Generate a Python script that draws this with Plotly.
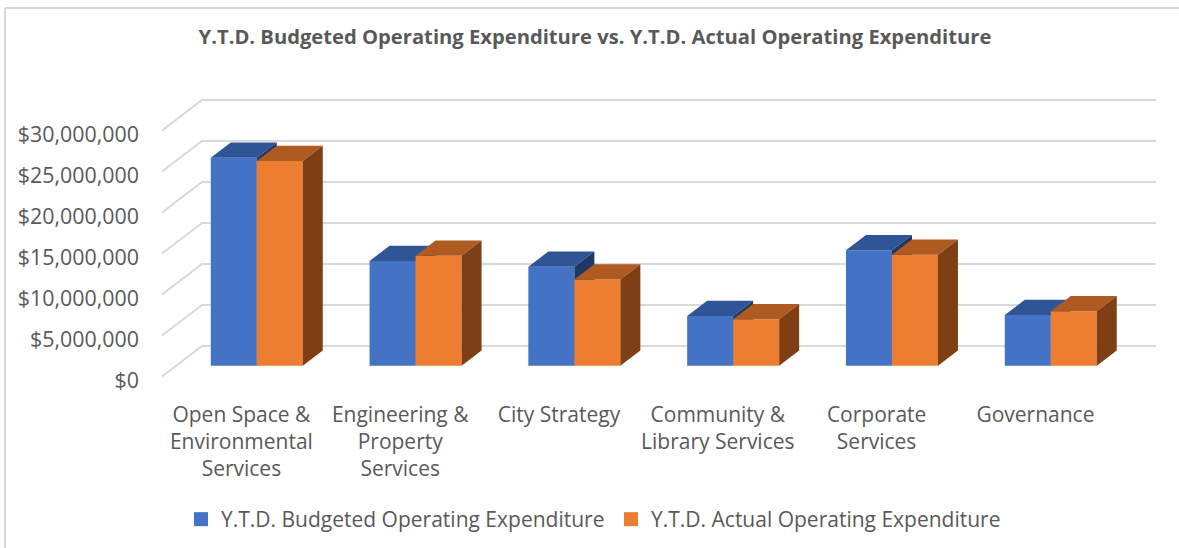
import plotly.graph_objects as go

categories = ["Open Space &<br>Environmental<br>Services", "Engineering &<br>Property<br>Services", "City Strategy",
              "Community &<br>Library Services", "Corporate<br>Services", "Governance"]
budgeted = [25370000, 12770000, 12070000, 6060000, 14070000, 6180000]
actual = [24960000, 13400000, 10500000, 5660000, 13540000, 6630000]
y_ticks = [0, 5000000, 10000000, 15000000, 20000000, 25000000, 30000000]
y_labels = ["$0", "$5,000,000", "$10,000,000", "$15,000,000", "$20,000,000", "$25,000,000", "$30,000,000"]
names = ["Y.T.D. Budgeted Operating Expenditure", "Y.T.D. Actual Operating Expenditure"]

W, H = 1179, 548
PX_X = 158.8          # px per category
PX_Y = 41 / 5e6       # px per dollar
WALL_X = 40 / PX_X    # depth of the floor, in axis units
WALL_Y = 30.5 / PX_Y
BAR_W = 46 / PX_X
FRONT = 0.354         # bar front as share of floor depth
DEPTH = 0.5           # bar depth as share of floor depth
NUDGE_X = 1.2 / PX_X  # bars sit a little right of the floor's centre line
LABEL_DROP = 3.5 / PX_Y  # value labels sit just under their front edge
XR = [-0.5, (1156 - 241.4) / PX_X]
YR = [-6 / PX_Y, 35e6]
FONT = "Open Sans"
TXT = "#595959"
GRID = "#D9D9D9"

fig = go.Figure()

# wall and floor lines, on the back layer
gx, gy = [], []
for t in y_ticks:
    gx += [XR[0], XR[0] + WALL_X, XR[1], None]
    gy += [t, t + WALL_Y, t + WALL_Y, None]
fig.add_trace(go.Scatter(x=gx, y=gy, mode="lines", line=dict(color=GRID, width=2),
                         hoverinfo="skip", showlegend=False, xaxis="x", yaxis="y"))


def add_series(values, side, front, top, dark, axis):
    xa, ya = "x" + axis, "y" + axis
    sx = FRONT * WALL_X + NUDGE_X
    sy = FRONT * WALL_Y
    dx = DEPTH * WALL_X
    dy = DEPTH * WALL_Y
    lefts = [i + sx + side * BAR_W / 2 for i in range(len(values))]
    fig.add_trace(go.Bar(x=lefts, y=values, base=[sy] * len(values), width=BAR_W, marker=dict(color=front, line=dict(width=0)),
                         showlegend=False, xaxis=xa, yaxis=ya))
    tx, ty, rx, ry = [], [], [], []
    for c, v in zip(lefts, values):
        l, r = c - BAR_W / 2, c + BAR_W / 2
        t = sy + v
        tx += [l, r, r + dx, l + dx, l, None]
        ty += [t, t, t + dy, t + dy, t, None]
        rx += [r, r + dx, r + dx, r, r, None]
        ry += [sy, sy + dy, t + dy, t, sy, None]
    for px, py, col in ((tx, ty, top), (rx, ry, dark)):
        fig.add_trace(go.Scatter(x=px, y=py, mode="lines", fill="toself", fillcolor=col, line=dict(width=0),
                                 hoverinfo="skip", showlegend=False, xaxis=xa, yaxis=ya))


add_series(budgeted, -1, "#4472C4", "#2F5597", "#203864", "2")
add_series(actual, 1, "#ED7D31", "#AE5A21", "#7F3F14", "3")

# legend entries
for n, c in zip(names, ["#4472C4", "#ED7D31"]):
    fig.add_trace(go.Scatter(x=[None], y=[None], mode="markers", name=n,
                             marker=dict(symbol="square", size=14, color=c), xaxis="x", yaxis="y"))

dom_x = [162 / W, 1156 / W]
dom_y = [(H - 382.5) / H, (H - 89.5) / H]
hidden = dict(visible=False, fixedrange=True)
fig.update_layout(
    width=W, height=H, margin=dict(l=0, r=0, t=0, b=0, autoexpand=False), paper_bgcolor="white", plot_bgcolor="rgba(0,0,0,0)",
    font=dict(family=FONT, color=TXT),
    title=dict(text="<b>Y.T.D. Budgeted Operating Expenditure vs. Y.T.D. Actual Operating Expenditure</b>",
               x=595 / W, y=1 - 37 / H, xanchor="center", yanchor="middle", font=dict(size=20.2, color=TXT, family=FONT)),
    xaxis=dict(domain=dom_x, range=XR, tickmode="array", tickvals=list(range(len(categories))), ticktext=categories,
               showgrid=False, zeroline=False, showline=False, ticks="", tickfont=dict(size=21, color=TXT), ticklabelstandoff=17, fixedrange=True),
    yaxis=dict(domain=dom_y, range=YR, tickmode="array", tickvals=[t - LABEL_DROP for t in y_ticks], ticktext=y_labels,
               showgrid=False, zeroline=False, showline=False, ticks="", tickfont=dict(size=21.4, color=TXT), ticklabelstandoff=22, fixedrange=True),
    xaxis2=dict(overlaying="x", range=XR, **hidden), yaxis2=dict(overlaying="y", range=YR, **hidden),
    xaxis3=dict(overlaying="x", range=XR, **hidden), yaxis3=dict(overlaying="y", range=YR, **hidden),
    legend=dict(orientation="h", x=181 / W, y=1 - 499 / H, xanchor="left", yanchor="top",
                font=dict(size=21, color=TXT), bgcolor="rgba(0,0,0,0)", entrywidth=385, entrywidthmode="pixels"),
    shapes=[
        dict(type="line", xref="paper", yref="paper", x0=5 / W, x1=1, y0=1 - 8 / H, y1=1 - 8 / H, line=dict(color=GRID, width=2)),
        dict(type="line", xref="paper", yref="paper", x0=5 / W, x1=5 / W, y0=0, y1=1 - 8 / H, line=dict(color=GRID, width=2)),
    ],
)

fig.write_html("out.html", post_script="document.body.style.margin='0';", config={"displayModeBar": False})
